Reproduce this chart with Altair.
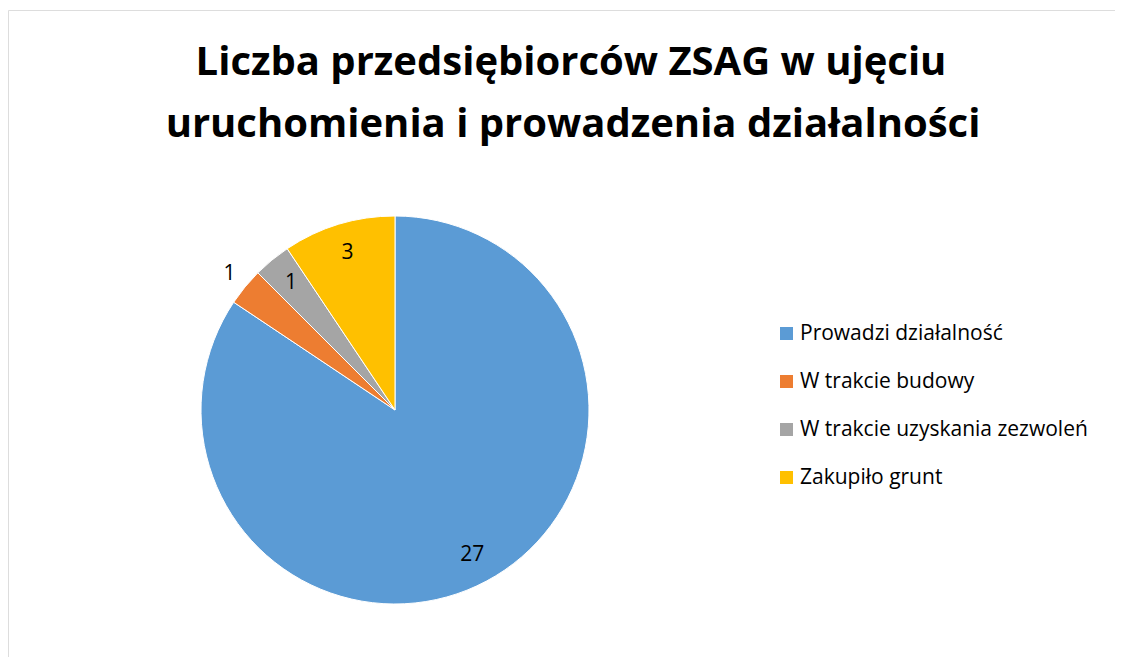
import altair as alt
import pandas as pd

categories = ["Prowadzi działalność", "W trakcie budowy", "W trakcie uzyskania zezwoleń", "Zakupiło grunt"]
values = [27, 1, 1, 3]
colors = ["#5B9BD5", "#ED7D31", "#A5A5A5", "#FFC000"]
title_lines = ["Liczba przedsiębiorców ZSAG w ujęciu", "uruchomienia i prowadzenia działalności"]

FONT = "Open Sans"

df = pd.DataFrame({"category": categories, "value": values, "order": list(range(len(categories)))})

CX, CY, R = 387, 400, 194
theta_scale = alt.Scale(domain=[0, sum(values)], range=[0, 6.283185307179586])

pie = alt.Chart(df).mark_arc(radius=R, stroke="white", strokeWidth=1).encode(
    theta=alt.Theta("value:Q", stack=True, scale=theta_scale),
    order=alt.Order("order:Q"),
    x=alt.value(CX),
    y=alt.value(CY),
    color=alt.Color(
        "category:N",
        scale=alt.Scale(domain=categories, range=colors),
        sort=categories,
        legend=alt.Legend(
            title=None,
            orient="none",
            legendX=768,
            legendY=313,
            symbolType="square",
            symbolSize=169,
            symbolStrokeWidth=0,
            labelFont=FONT,
            labelFontSize=21,
            labelColor="#000000",
            labelOffset=3,
            rowPadding=26,
            labelLimit=400,
        ),
    ),
)

labels = alt.Chart(df).transform_window(
    cum="sum(value)", sort=[alt.SortField("order")], frame=[None, 0]
).transform_calculate(
    mid="datum.cum - datum.value / 2",
    lr="datum.category == 'W trakcie budowy' ? 214 : 164",
).mark_text(font=FONT, fontSize=21, color="black").encode(
    theta=alt.Theta("mid:Q", stack=None, scale=theta_scale),
    x=alt.value(CX),
    y=alt.value(CY),
    radius=alt.Radius("lr:Q", scale=None),
    text="value:Q",
)

title_df = pd.DataFrame({"line": title_lines, "idx": [0, 1]})
t1 = alt.Chart(title_df).transform_filter(alt.datum.idx == 0).mark_text(
    font=FONT, fontSize=40, fontWeight="bold", color="black", baseline="alphabetic", align="center"
).encode(x=alt.value(563), y=alt.value(65), text="line:N")
t2 = alt.Chart(title_df).transform_filter(alt.datum.idx == 1).mark_text(
    font=FONT, fontSize=40, fontWeight="bold", color="black", baseline="alphabetic", align="center"
).encode(x=alt.value(565), y=alt.value(127), text="line:N")

chart = alt.layer(pie, labels, t1, t2).properties(
    width=1107, height=660, autosize=alt.AutoSizeParams(type="none"),
    padding={"left": 0, "top": 2, "right": 0, "bottom": 0}
).configure_view(stroke="#A6A6A6", strokeWidth=1).configure(background="white")

chart.save("out.html", embed_options={"renderer": "svg", "actions": False})
